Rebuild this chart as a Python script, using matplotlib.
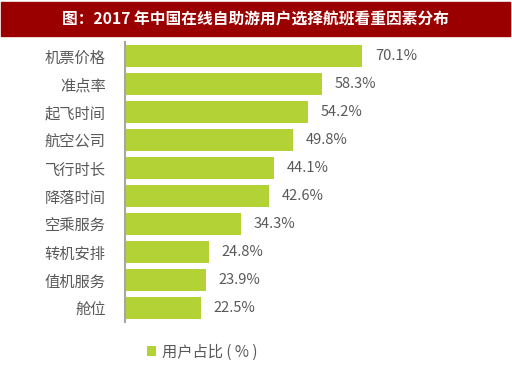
import matplotlib.pyplot as plt
from matplotlib.patches import Rectangle

plt.rcParams['font.family'] = ['Noto Sans CJK SC', 'DejaVu Sans']

factors = ["机票价格", "准点率", "起飞时间", "航空公司", "飞行时长",
           "降落时间", "空乘服务", "转机安排", "值机服务", "舱位"]
shares = [70.1, 58.3, 54.2, 49.8, 44.1, 42.6, 34.3, 24.8, 23.9, 22.5]
title = "图：2017 年中国在线自助游用户选择航班看重因素分布"
legend_label = "用户占比 ( % )"

green = "#b3d235"
grey_txt = "#595959"

fig = plt.figure(figsize=(5.12, 3.8), dpi=100)

# red title bar across the top
fig.patches.append(Rectangle((1/512, 1 - 36/380), 509/512, 34/380,
                             transform=fig.transFigure, color="#9b0000", zorder=0))
fig.text(0.5, 1 - 19/380, title, ha="center", va="center", color="white",
         fontsize=11.3, fontweight="bold")

ax = fig.add_axes([125/512, 1 - 322/380, 355/512, 280/380])
y = list(range(len(factors)))
bars = ax.barh(y, shares, height=0.76, color=green, label=legend_label)
ax.set_ylim(len(factors) - 0.5, -0.5)
ax.set_xlim(0, 105)

for yi, v in zip(y, shares):
    ax.text(v + 3.8, yi, f"{v}%", va="center", ha="left", fontsize=10.5, color=grey_txt)

ax.set_yticks(y)
ax.set_yticklabels(factors, fontsize=11, color=grey_txt)
ax.tick_params(axis="y", length=0, pad=14)
ax.set_xticks([])
for s in ["top", "right", "bottom"]:
    ax.spines[s].set_visible(False)
ax.spines["left"].set_color("#a6a6a6")
ax.spines["left"].set_linewidth(1.5)

fig.legend(handles=[bars], labels=[legend_label], loc="center",
           bbox_to_anchor=(202/512, 1 - 352/380), frameon=False,
           fontsize=11, handlelength=0.6, handleheight=0.6, handletextpad=0.4,
           labelcolor=grey_txt)

fig.savefig("out.png", dpi=100, facecolor="white")
